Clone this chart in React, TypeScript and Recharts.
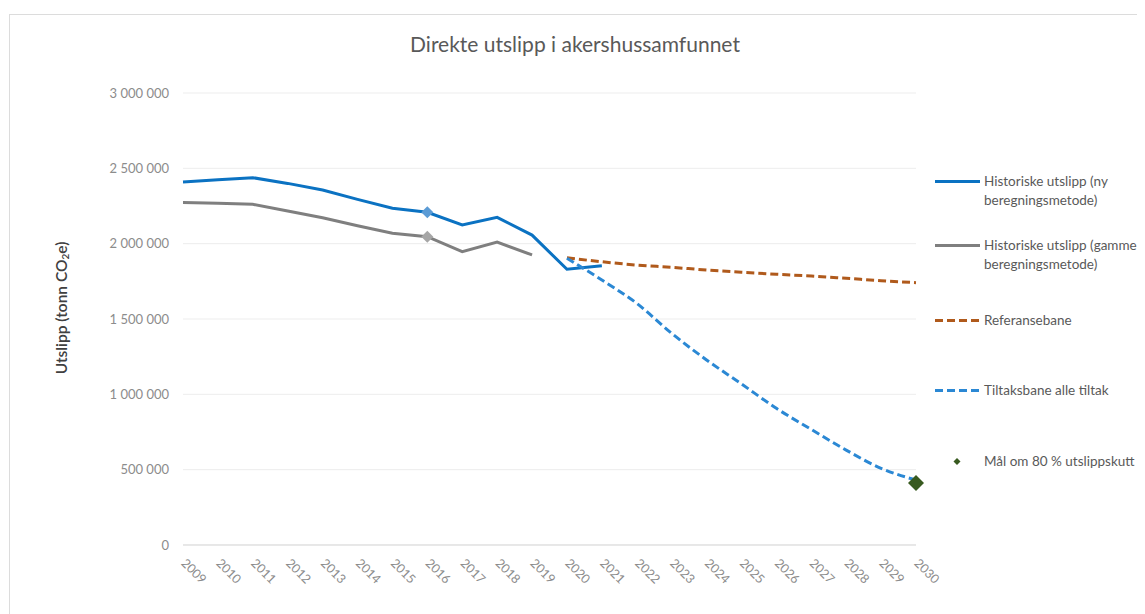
import { CartesianGrid, Legend, Line, LineChart, XAxis, YAxis } from "recharts";

const FONT = "Lato, 'Open Sans', sans-serif";

// x axis: one tick per year
const YEARS = [
  2009, 2010, 2011, 2012, 2013, 2014, 2015, 2016, 2017, 2018, 2019,
  2020, 2021, 2022, 2023, 2024, 2025, 2026, 2027, 2028, 2029, 2030,
];
const Y_TICKS = [0, 500000, 1000000, 1500000, 2000000, 2500000, 3000000];

// historical series start in 2009
const HIST_NY = [
  2409000, 2424000, 2438000, 2400000, 2356000, 2294000, 2235000, 2208000, 2124000, 2175000, 2057000,
  1830000, 1854000,
];
const HIST_GAMMEL = [
  2274000, 2268000, 2261000, 2217000, 2172000, 2119000, 2069000, 2046000, 1947000, 2011000, 1925000,
];

// projections start in 2020
const PROJ_START = 2020;
const REFERANSEBANE = [
  1906000, 1880000, 1858000, 1843000, 1825000, 1810000, 1797000, 1785000, 1770000, 1754000, 1741000,
];
const TILTAKSBANE = [
  1903000, 1759000, 1604000, 1405000, 1228000, 1069000, 907000, 767000, 630000, 509000, 431000,
];

const MAAL_YEAR = 2030;
const MAAL_VALUE = 412000;
const MARKER_YEAR = 2016;

type Series = { key: string; name: string; color: string; dash?: string; diamond?: boolean };

const SERIES: Series[] = [
  { key: "ny", name: "Historiske utslipp (ny beregningsmetode)", color: "#0b72c2" },
  { key: "gammel", name: "Historiske utslipp (gammel beregningsmetode)", color: "#7f7f7f" },
  { key: "ref", name: "Referansebane", color: "#b05a1c", dash: "8 4" },
  { key: "tiltak", name: "Tiltaksbane alle tiltak", color: "#2b88d4", dash: "8 4" },
  { key: "maal", name: "Mål om 80 % utslippskutt", color: "#385a1f", diamond: true },
];

const data = YEARS.map((year, i) => ({
  year,
  ny: HIST_NY[i] ?? null,
  gammel: HIST_GAMMEL[i] ?? null,
  ref: year >= PROJ_START ? REFERANSEBANE[year - PROJ_START] : null,
  tiltak: year >= PROJ_START ? TILTAKSBANE[year - PROJ_START] : null,
  maal: year === MAAL_YEAR ? MAAL_VALUE : null,
}));

const fmt = (v: number) => String(v).replace(/\B(?=(\d{3})+(?!\d))/g, " ");

const diamondPath = (cx: number, cy: number, r: number) =>
  `M${cx},${cy - r}L${cx + r},${cy}L${cx},${cy + r}L${cx - r},${cy}Z`;

// only draws a diamond on the one point that has it in the original
const markerAt = (year: number, fill: string, r: number) => (props: any) => {
  const { cx, cy, payload, index } = props;
  if (payload?.year !== year || cy == null || Number.isNaN(cy)) return <g key={index} />;
  return <path key={index} d={diamondPath(cx, cy, r)} fill={fill} />;
};

function YearTick({ x, y, payload }: any) {
  const tx = x + 10;
  const ty = y + 19;
  return (
    <text
      x={tx}
      y={ty}
      transform={`rotate(45 ${tx} ${ty})`}
      textAnchor="middle"
      dominantBaseline="middle"
      fill="#8c8c8c"
      fontSize={12.5}
      fontFamily={FONT}
    >
      {payload.value}
    </text>
  );
}

function YLabel() {
  return (
    <text
      x={55}
      y={300}
      transform="rotate(-90 55 300)"
      textAnchor="middle"
      dominantBaseline="middle"
      fill="#404040"
      fontSize={15.5}
      fontWeight={600}
      fontFamily={FONT}
    >
      Utslipp (tonn CO<tspan dy={3} fontSize={10}>2</tspan>
      <tspan dy={-3}>e)</tspan>
    </text>
  );
}

const LEGEND_TOPS = [11.5, 75.5, 150.5, 220.5, 291.5];

function LegendBox() {
  return (
    <div style={{ position: "relative", fontFamily: FONT, fontSize: 13.5, color: "#595959" }}>
      {SERIES.map((s, i) => (
        <div
          key={s.key}
          style={{ position: "absolute", left: 0, top: LEGEND_TOPS[i], display: "flex", width: 260 }}
        >
          <svg width={49} height={19} style={{ flex: "none" }}>
            {s.diamond ? (
              <path d={diamondPath(22, 9.5, 3.5)} fill={s.color} />
            ) : (
              <line x1={0} x2={45} y1={9.5} y2={9.5} stroke={s.color} strokeWidth={3} strokeDasharray={s.dash} />
            )}
          </svg>
          <div style={{ width: 185, lineHeight: "19px" }}>{s.name}</div>
        </div>
      ))}
    </div>
  );
}

export default function App() {
  return (
    <div style={{ position: "relative", width: 1137, height: 606, overflow: "hidden", background: "#fff" }}>
      <div
        style={{
          position: "absolute",
          left: 1,
          top: 6,
          width: 1300,
          height: 800,
          border: "1px solid #dcdcdc",
        }}
      />
      <div
        style={{
          position: "absolute",
          left: 0,
          top: 23,
          width: 1134,
          textAlign: "center",
          fontFamily: FONT,
          fontSize: 21,
          lineHeight: "26px",
          color: "#595959",
        }}
      >
        Direkte utslipp i akershussamfunnet
      </div>
      <div style={{ position: "absolute", left: 0, top: 0 }}>
        <LineChart width={1137} height={606} data={data} margin={{ top: 85, right: 229, bottom: 0, left: 0 }}>
          <CartesianGrid vertical={false} stroke="#ededed" />
          <XAxis
            dataKey="year"
            type="number"
            domain={[2009, 2030]}
            ticks={YEARS}
            interval={0}
            height={69}
            axisLine={{ stroke: "#d9d9d9" }}
            tickLine={false}
            tick={<YearTick />}
          />
          <YAxis
            domain={[0, 3000000]}
            ticks={Y_TICKS}
            width={175}
            axisLine={false}
            tickLine={false}
            tickMargin={8}
            tickFormatter={fmt}
            tick={{ fill: "#8c8c8c", fontSize: 13, fontFamily: FONT }}
            label={<YLabel />}
          />
          <Legend
            layout="vertical"
            content={<LegendBox />}
            wrapperStyle={{ position: "absolute", left: 927, top: 152, width: 0, height: 0 }}
          />
          <Line
            dataKey="ny"
            name={SERIES[0].name}
            stroke={SERIES[0].color}
            strokeWidth={3}
            dot={markerAt(MARKER_YEAR, "#5b9bd5", 6)}
            activeDot={false}
            isAnimationActive={false}
          />
          <Line
            dataKey="gammel"
            name={SERIES[1].name}
            stroke={SERIES[1].color}
            strokeWidth={3}
            dot={markerAt(MARKER_YEAR, "#a6a6a6", 6)}
            activeDot={false}
            isAnimationActive={false}
          />
          <Line
            dataKey="ref"
            name={SERIES[2].name}
            type="monotone"
            stroke={SERIES[2].color}
            strokeWidth={3}
            strokeDasharray={SERIES[2].dash}
            dot={false}
            activeDot={false}
            isAnimationActive={false}
          />
          <Line
            dataKey="tiltak"
            name={SERIES[3].name}
            type="monotone"
            stroke={SERIES[3].color}
            strokeWidth={3}
            strokeDasharray={SERIES[3].dash}
            dot={false}
            activeDot={false}
            isAnimationActive={false}
          />
          <Line
            dataKey="maal"
            name={SERIES[4].name}
            stroke="transparent"
            dot={markerAt(MAAL_YEAR, SERIES[4].color, 8)}
            activeDot={false}
            isAnimationActive={false}
          />
        </LineChart>
      </div>
    </div>
  );
}
